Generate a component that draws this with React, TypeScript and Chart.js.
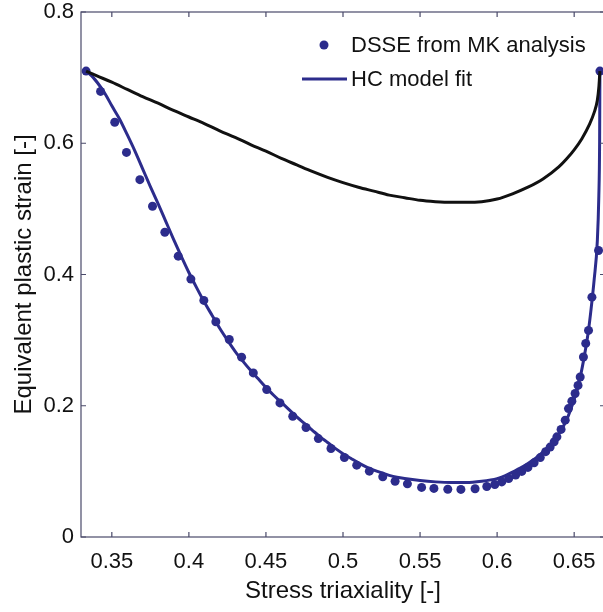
import React, { useEffect, useRef } from "react";
import { Chart, registerables } from "chart.js";

Chart.register(...registerables);

const X_TICKS = [0.35, 0.4, 0.45, 0.5, 0.55, 0.6, 0.65];
const Y_TICKS = [0, 0.2, 0.4, 0.6, 0.8];

// DSSE from MK analysis (dots)
const DSSE_X = [
  0.3333, 0.3427, 0.3519, 0.3595, 0.3682, 0.3764, 0.3844, 0.3931, 0.4013, 0.4097,
  0.4175, 0.4262, 0.4342, 0.4418, 0.4505, 0.4591, 0.4674, 0.476, 0.484, 0.4922,
  0.5009, 0.5089, 0.5171, 0.5258, 0.5338, 0.5418, 0.551, 0.559, 0.568, 0.5765,
  0.5857, 0.5933, 0.5985, 0.603, 0.6075, 0.612, 0.616, 0.62, 0.624, 0.628,
  0.6315, 0.6344, 0.637, 0.6388, 0.6415, 0.6442, 0.6463, 0.6485, 0.6506, 0.6525,
  0.6539, 0.656, 0.6575, 0.6593, 0.6615, 0.6658, 0.6667,
];
const DSSE_Y = [
  0.71, 0.679, 0.632, 0.586, 0.5445, 0.504, 0.4644, 0.428, 0.393, 0.3605,
  0.328, 0.301, 0.274, 0.25, 0.2246, 0.2043, 0.184, 0.1668, 0.15, 0.1349,
  0.1212, 0.1095, 0.1003, 0.0918, 0.085, 0.081, 0.0756, 0.074, 0.0728, 0.0725,
  0.0735, 0.077, 0.08, 0.084, 0.089, 0.0945, 0.1, 0.106, 0.113, 0.121,
  0.13, 0.137, 0.145, 0.1526, 0.164, 0.178, 0.1957, 0.207, 0.2186, 0.231,
  0.2438, 0.2742, 0.295, 0.3148, 0.3655, 0.4365, 0.71,
];

// HC model fit (blue line)
const HC_X = [
  0.3333, 0.338, 0.342, 0.346, 0.35, 0.355, 0.36, 0.365, 0.37, 0.375,
  0.38, 0.385, 0.39, 0.395, 0.4, 0.405, 0.41, 0.415, 0.42, 0.425,
  0.43, 0.435, 0.44, 0.445, 0.45, 0.455, 0.46, 0.465, 0.47, 0.475,
  0.48, 0.485, 0.49, 0.495, 0.5, 0.505, 0.51, 0.515, 0.52, 0.525,
  0.53, 0.535, 0.54, 0.55, 0.56, 0.57, 0.58, 0.59, 0.6, 0.605,
  0.61, 0.615, 0.62, 0.625, 0.63, 0.635, 0.64, 0.645, 0.65, 0.653,
  0.656, 0.659, 0.661, 0.663, 0.665, 0.666, 0.6665, 0.6667,
];
const HC_Y = [
  0.71, 0.7, 0.688, 0.674, 0.657, 0.637, 0.613, 0.588, 0.561, 0.534,
  0.508, 0.481, 0.454, 0.428, 0.403, 0.38, 0.358, 0.338, 0.318, 0.3,
  0.283, 0.268, 0.254, 0.241, 0.228, 0.216, 0.205, 0.194, 0.183, 0.173,
  0.163, 0.153, 0.144, 0.135, 0.127, 0.12, 0.113, 0.107, 0.102, 0.098,
  0.094, 0.091, 0.089, 0.086, 0.084, 0.083, 0.083, 0.085, 0.089, 0.093,
  0.099, 0.105, 0.112, 0.12, 0.13, 0.142, 0.157, 0.178, 0.21, 0.234,
  0.268, 0.31, 0.348, 0.393, 0.45, 0.52, 0.6, 0.71,
];

// Black curve
const BLACK_X = [
  0.3333, 0.34, 0.35, 0.36, 0.37, 0.38, 0.39, 0.4, 0.41, 0.42,
  0.43, 0.44, 0.45, 0.46, 0.47, 0.48, 0.49, 0.5, 0.51, 0.52,
  0.53, 0.54, 0.55, 0.56, 0.57, 0.58, 0.59, 0.6, 0.61, 0.62,
  0.63, 0.64, 0.645, 0.65, 0.655, 0.66, 0.663, 0.665, 0.666, 0.6667,
];
const BLACK_Y = [
  0.71, 0.703, 0.693, 0.682, 0.671, 0.661, 0.65, 0.64, 0.63, 0.619,
  0.609, 0.598, 0.588, 0.577, 0.567, 0.557, 0.548, 0.54, 0.533, 0.527,
  0.521, 0.517, 0.513, 0.511, 0.51, 0.51, 0.511, 0.515, 0.523, 0.533,
  0.546, 0.564, 0.576, 0.59, 0.607, 0.629, 0.647, 0.665, 0.685, 0.71,
];

const LEGEND_LABELS = ["DSSE from MK analysis", "HC model fit"];

const BLUE = "#2c2c8c";
const TEXT = "#111111";
const FONT = "Arial, 'Liberation Sans', Helvetica, sans-serif";

const zip = (xs: number[], ys: number[]) => xs.map((x, i) => ({ x, y: ys[i] }));

const framePlugin = {
  id: "frame",
  afterDraw(chart: any) {
    const { ctx, chartArea: a, scales } = chart;
    ctx.save();
    ctx.strokeStyle = "#4a4a6a";
    ctx.lineWidth = 1.2;
    ctx.strokeRect(a.left, a.top, a.right - a.left, a.bottom - a.top);
    const tl = 5;
    ctx.beginPath();
    X_TICKS.forEach((v) => {
      const px = scales.x.getPixelForValue(v);
      ctx.moveTo(px, a.bottom);
      ctx.lineTo(px, a.bottom - tl);
      ctx.moveTo(px, a.top);
      ctx.lineTo(px, a.top + tl);
    });
    Y_TICKS.forEach((v) => {
      const py = scales.y.getPixelForValue(v);
      ctx.moveTo(a.left, py);
      ctx.lineTo(a.left + tl, py);
      ctx.moveTo(a.right, py);
      ctx.lineTo(a.right - tl, py);
    });
    ctx.stroke();

    // legend
    ctx.fillStyle = BLUE;
    ctx.beginPath();
    ctx.arc(324, 45, 4.5, 0, Math.PI * 2);
    ctx.fill();
    ctx.strokeStyle = BLUE;
    ctx.lineWidth = 3;
    ctx.beginPath();
    ctx.moveTo(302, 79);
    ctx.lineTo(347, 79);
    ctx.stroke();
    ctx.fillStyle = TEXT;
    ctx.font = `22px ${FONT}`;
    ctx.textBaseline = "middle";
    ctx.textAlign = "left";
    ctx.fillText(LEGEND_LABELS[0], 351, 46);
    ctx.fillText(LEGEND_LABELS[1], 351, 80);
    ctx.restore();
  },
};

export default function App() {
  const ref = useRef<HTMLCanvasElement | null>(null);
  useEffect(() => {
    if (!ref.current) return;
    const chart = new Chart(ref.current, {
      type: "scatter",
      data: {
        datasets: [
          {
            label: "black",
            data: zip(BLACK_X, BLACK_Y),
            showLine: true,
            borderColor: "#111111",
            borderWidth: 3,
            pointRadius: 0,
            cubicInterpolationMode: "monotone",
          },
          {
            label: LEGEND_LABELS[1],
            data: zip(HC_X, HC_Y),
            showLine: true,
            borderColor: BLUE,
            borderWidth: 3,
            pointRadius: 0,
            cubicInterpolationMode: "monotone",
          },
          {
            label: LEGEND_LABELS[0],
            data: zip(DSSE_X, DSSE_Y),
            showLine: false,
            backgroundColor: BLUE,
            borderWidth: 0,
            pointRadius: 4.5,
          },
        ],
      },
      options: {
        responsive: false,
        animation: false,
        devicePixelRatio: 1,
        layout: { padding: { top: 12, right: 7, left: 0, bottom: 0 } },
        plugins: { legend: { display: false }, tooltip: { enabled: false } },
        scales: {
          x: {
            type: "linear",
            min: 0.33,
            max: 0.67,
            grid: { display: false, drawTicks: false, tickLength: 0 },
            border: { display: false },
            afterBuildTicks: (s: any) => {
              s.ticks = X_TICKS.map((v) => ({ value: v }));
            },
            afterFit: (s: any) => {
              s.height = 75;
              s.paddingLeft = 0;
              s.paddingRight = 0;
            },
            ticks: {
              autoSkip: false,
              maxRotation: 0,
              padding: 12,
              color: TEXT,
              font: { family: FONT, size: 22 },
              callback: (v: any) => String(Number(v)),
            },
            title: {
              display: true,
              text: "Stress triaxiality [-]",
              color: TEXT,
              font: { family: FONT, size: 24 },
              padding: { top: 0, bottom: 6 },
            },
          },
          y: {
            type: "linear",
            min: 0,
            max: 0.8,
            grid: { display: false, drawTicks: false, tickLength: 0 },
            border: { display: false },
            afterBuildTicks: (s: any) => {
              s.ticks = Y_TICKS.map((v) => ({ value: v }));
            },
            afterFit: (s: any) => {
              s.width = 81;
              s.paddingTop = 0;
              s.paddingBottom = 0;
            },
            ticks: {
              autoSkip: false,
              padding: 7,
              color: TEXT,
              font: { family: FONT, size: 22 },
              callback: (v: any) => String(Number(v)),
            },
            title: {
              display: true,
              text: "Equivalent plastic strain [-]",
              color: TEXT,
              font: { family: FONT, size: 24 },
              padding: { top: 10, bottom: 0 },
            },
          },
        },
      },
      plugins: [framePlugin],
    } as any);
    return () => chart.destroy();
  }, []);
  return (
    <div
      style={{
        position: "fixed",
        left: 0,
        top: 0,
        width: 603,
        height: 612,
        overflow: "hidden",
        background: "#fff",
      }}
    >
      <canvas ref={ref} width={612} height={612} style={{ width: 612, height: 612, display: "block" }} />
    </div>
  );
}
